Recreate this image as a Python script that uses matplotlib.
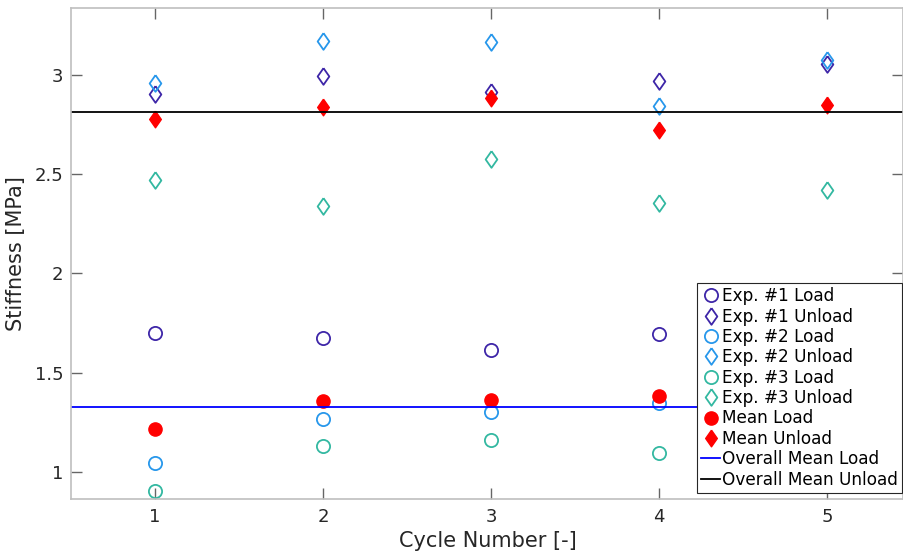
import numpy as np
import matplotlib.pyplot as plt

# cycle numbers
cycles = [1, 2, 3, 4, 5]

# stiffness values [MPa] (cycle 5 load points sit under the legend)
exp1_load = [1.702, 1.677, 1.616, 1.694, np.nan]
exp1_unload = [2.904, 2.995, 2.916, 2.970, 3.055]
exp2_load = [1.044, 1.268, 1.301, 1.346, np.nan]
exp2_unload = [2.961, 3.173, 3.166, 2.844, 3.076]
exp3_load = [0.906, 1.132, 1.163, 1.094, np.nan]
exp3_unload = [2.471, 2.340, 2.578, 2.357, 2.421]
mean_load = [1.218, 1.359, 1.363, 1.381, np.nan]
mean_unload = [2.778, 2.839, 2.883, 2.723, 2.849]
overall_mean_load = 1.329
overall_mean_unload = 2.812

c1 = (0.2422, 0.1504, 0.6603)
c2 = (0.1540, 0.5902, 0.9218)
c3 = (0.1986, 0.7214, 0.6310)

# MATLAB-like diamond (a bit wider than matplotlib's 'd')
diamond = [(0, 1), (0.7, 0), (0, -1), (-0.7, 0), (0, 1)]

W, H = 904, 556
fig = plt.figure(figsize=(W / 100, H / 100), dpi=100)
ax_l, ax_r, ax_t, ax_b = 71.5, 903.5, 8.3, 499.3
ax = fig.add_axes([ax_l / W, 1 - ax_b / H, (ax_r - ax_l) / W, (ax_b - ax_t) / H])

ms_o = 9.5
ms_d = 12
mew = 1.3
ax.plot(cycles, exp1_load, 'o', mfc='none', mec=c1, ms=ms_o, mew=mew, label='Exp. #1 Load')
ax.plot(cycles, exp1_unload, marker=diamond, ls='none', mfc='none', mec=c1, ms=ms_d, mew=mew, label='Exp. #1 Unload')
ax.plot(cycles, exp2_load, 'o', mfc='none', mec=c2, ms=ms_o, mew=mew, label='Exp. #2 Load')
ax.plot(cycles, exp2_unload, marker=diamond, ls='none', mfc='none', mec=c2, ms=ms_d, mew=mew, label='Exp. #2 Unload')
ax.plot(cycles, exp3_load, 'o', mfc='none', mec=c3, ms=ms_o, mew=mew, label='Exp. #3 Load')
ax.plot(cycles, exp3_unload, marker=diamond, ls='none', mfc='none', mec=c3, ms=ms_d, mew=mew, label='Exp. #3 Unload')
ax.plot(cycles, mean_load, 'o', color='red', ms=ms_o, label='Mean Load')
ax.plot(cycles, mean_unload, marker=diamond, ls='none', color='red', ms=ms_d, label='Mean Unload')
ax.axhline(overall_mean_load, color='blue', lw=1.3, label='Overall Mean Load')
ax.axhline(overall_mean_unload, color='black', lw=1.3, label='Overall Mean Unload')

ax.set_xlim(0.504, 5.453)
ax.set_ylim(0.862, 3.336)
ax.set_xticks(cycles)
ax.set_yticks([1, 1.5, 2, 2.5, 3])
ax.set_yticklabels(['1', '1.5', '2', '2.5', '3'])

txt = (0.15, 0.15, 0.15)
for s in ax.spines.values():
    s.set_color((0.75, 0.75, 0.75))
    s.set_linewidth(1.2)
ax.tick_params(direction='in', length=8, width=1, color=(0.4, 0.4, 0.4),
               labelsize=13, labelcolor=txt, top=True, right=True, pad=6)
ax.set_xlabel('Cycle Number [-]', fontsize=15, color=txt, labelpad=4)
ax.set_ylabel('Stiffness [MPa]', fontsize=15, color=txt, labelpad=6)

leg = ax.legend(loc='upper left', bbox_to_anchor=(696.7 / W, 1 - 283 / H),
                bbox_transform=fig.transFigure, borderaxespad=0, fontsize=12.2,
                frameon=True, fancybox=False, framealpha=1, edgecolor=(0.15, 0.15, 0.15),
                handlelength=1.15, handletextpad=0.1, labelspacing=0.14, borderpad=0.25)
leg.get_frame().set_linewidth(0.8)
for t in leg.get_texts():
    t.set_color('black')

fig.savefig('out.png', dpi=100)
